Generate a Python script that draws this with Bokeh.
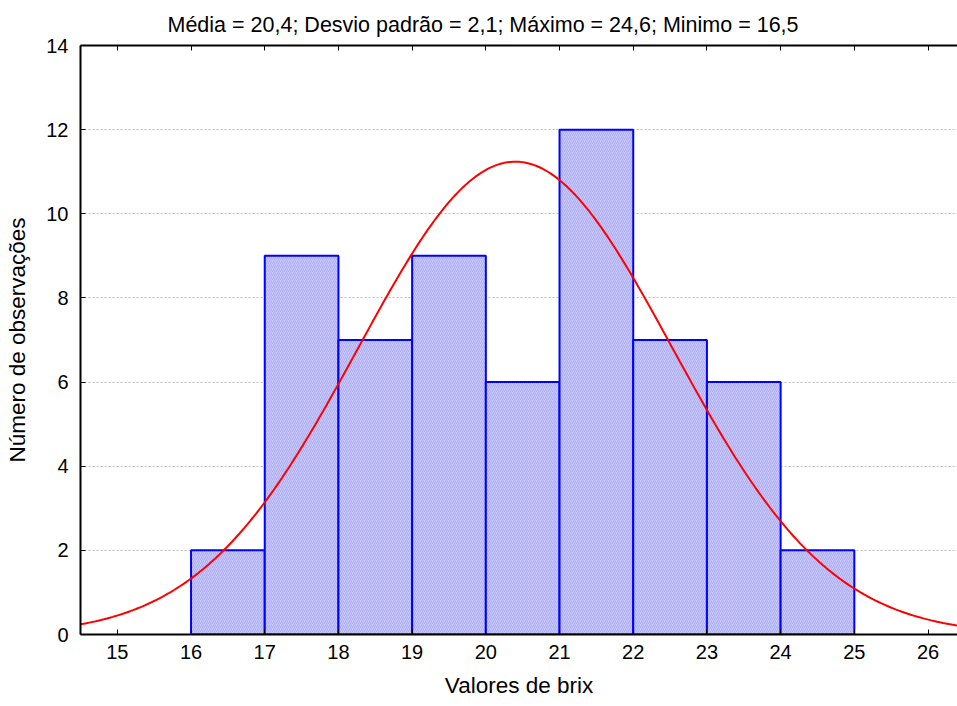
import math
from bokeh.plotting import figure
from bokeh.models import LinearAxis, FixedTicker, Range1d, Title, CustomJSTickFormatter
from bokeh.embed import file_html
from bokeh.resources import INLINE

# Histogram of Brix readings
bin_left = [16, 17, 18, 19, 20, 21, 22, 23, 24]
bin_right = [17, 18, 19, 20, 21, 22, 23, 24, 25]
counts = [2, 9, 7, 9, 6, 12, 7, 6, 2]

# Summary statistics
mean_brix = 20.4
sd_brix = 2.13
max_brix = 24.6
min_brix = 16.5

x_ticks = [15, 16, 17, 18, 19, 20, 21, 22, 23, 24, 25, 26]
y_ticks = [0, 2, 4, 6, 8, 10, 12, 14]

FONT = "Liberation Sans"


def fmt(v):
    return f"{v:.1f}".replace(".", ",")


title_text = (f"Média = {fmt(mean_brix)}; Desvio padrão = {fmt(sd_brix)}; "
              f"Máximo = {fmt(max_brix)}; Minimo = {fmt(min_brix)}")

p = figure(width=957, height=706, output_backend="svg", toolbar_location=None,
           x_range=Range1d(14.5, 26.4), y_range=Range1d(0, 14),
           min_border_left=80, min_border_right=0, min_border_top=45,
           min_border_bottom=72, x_axis_location=None, y_axis_location=None)
p.outline_line_color = None
p.background_fill_color = "white"
p.border_fill_color = "white"

# bars
p.quad(left=bin_left, right=bin_right, bottom=0, top=counts,
       fill_color="#c8c8fe", line_color="#0000ff", line_width=2,
       hatch_pattern="right_diagonal_line", hatch_color="#acacf2",
       hatch_scale=4, hatch_weight=1)

# fitted normal curve scaled to counts
n_obs = sum(counts)
bw = bin_right[0] - bin_left[0]
xs = [14.5 + i * (26.4 - 14.5) / 300 for i in range(301)]
ys = [n_obs * bw * math.exp(-0.5 * ((x - mean_brix) / sd_brix) ** 2)
      / (sd_brix * math.sqrt(2 * math.pi)) for x in xs]
p.line(xs, ys, line_color="#ff0000", line_width=2)


def style_axis(ax):
    ax.axis_line_color = "black"
    ax.axis_line_width = 2
    ax.major_tick_in = 5
    ax.major_tick_out = 0
    ax.major_tick_line_color = "black"
    ax.major_tick_line_width = 1
    ax.minor_tick_line_color = None
    ax.major_label_text_font = FONT
    ax.major_label_text_font_size = "20px"
    ax.major_label_text_color = "black"
    ax.axis_label_text_font = FONT
    ax.axis_label_text_font_size = "22.5px"
    ax.axis_label_text_font_style = "normal"
    ax.axis_label_text_color = "black"


xb = LinearAxis(ticker=FixedTicker(ticks=x_ticks), axis_label="Valores de brix")
style_axis(xb)
xb.major_label_standoff = 10
xb.axis_label_standoff = 11
p.add_layout(xb, "below")

# top frame edge with inward ticks, no labels
xt = LinearAxis(ticker=FixedTicker(ticks=x_ticks),
                formatter=CustomJSTickFormatter(code="return ''"))
style_axis(xt)
xt.major_label_standoff = 0
p.add_layout(xt, "above")

yl = LinearAxis(ticker=FixedTicker(ticks=y_ticks), axis_label="Número de observações")
style_axis(yl)
yl.major_label_standoff = 12
yl.axis_label_standoff = 13
p.add_layout(yl, "left")

t = Title(text=title_text, align="left", offset=87, text_font=FONT,
          text_font_size="21.5px", text_font_style="normal", text_color="black",
          standoff=17)
p.add_layout(t, "above")

p.xgrid.visible = False
p.ygrid.ticker = FixedTicker(ticks=y_ticks)
p.ygrid.grid_line_color = "#bdbdbd"
p.ygrid.grid_line_dash = "2 2"
p.ygrid.grid_line_width = 1

open("out.html", "w").write(file_html(p, INLINE))
